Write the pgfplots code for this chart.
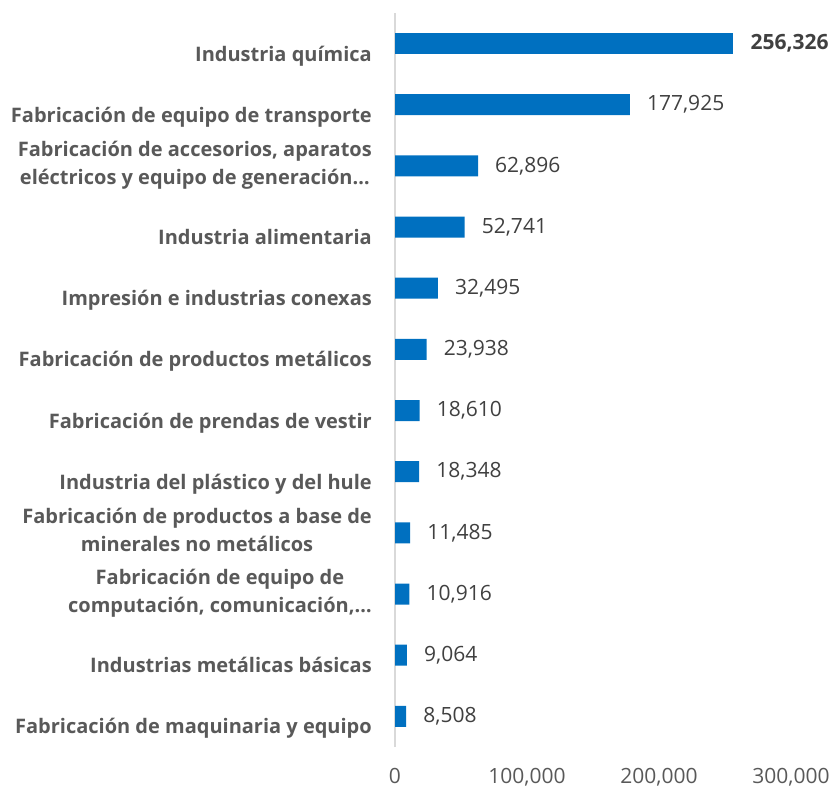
\documentclass[border=0pt]{standalone}
\usepackage{pgfplots}
\pgfplotsset{compat=1.18}
\usepackage{fontspec}
\setmainfont{Open Sans}
\definecolor{barblue}{HTML}{0070C0}
\definecolor{lblgray}{HTML}{595959}
\definecolor{valgray}{HTML}{404040}
\definecolor{axgray}{HTML}{D9D9D9}
\newcommand\ls{\rule[-7pt]{0pt}{21pt}}
\begin{document}
\begin{tikzpicture}[x=1pt,y=1pt]
\begin{axis}[
  at={(395pt,42pt)}, anchor=south west,
  scale only axis, width=396pt, height=734pt,
  xbar, bar width=21pt, bar shift=0pt,
  xmin=0, xmax=300000, ymin=-0.5, ymax=11.5,
  axis lines*=left,
  x axis line style={draw=none},
  y axis line style={draw=axgray, line width=1.2pt},
  major tick length=0pt,
  clip=false,
  xtick={0,100000,200000,300000},
  xticklabels={0,{100,000},{200,000},{300,000}},
  ytick={0,...,11},
  yticklabels={
    {\ls\\\ls Fabricación de maquinaria y equipo},
    {\ls\\\ls Industrias metálicas básicas},
    {\ls Fabricación de equipo de\\\ls computación, comunicación,…},
    {\ls Fabricación de productos a base de\\\ls minerales no metálicos},
    {\ls\\\ls Industria del plástico y del hule},
    {\ls\\\ls Fabricación de prendas de vestir},
    {\ls\\\ls Fabricación de productos metálicos},
    {\ls\\\ls Impresión e industrias conexas},
    {\ls\\\ls Industria alimentaria},
    {\ls Fabricación de accesorios, aparatos\\\ls eléctricos y equipo de generación…},
    {\ls\\\ls Fabricación de equipo de transporte},
    {\ls\\\ls Industria química}},
  xticklabel style={font=\fontsize{21}{25}\selectfont, text=lblgray, inner sep=0pt, anchor=north, yshift=-21pt},
  yticklabel style={font=\fontsize{20}{28}\selectfont\bfseries, text=lblgray, align=center, inner sep=0pt, anchor=east, xshift=-23pt},
  nodes near coords style={anchor=west, inner sep=0pt, xshift=17pt, font=\fontsize{21}{25}\selectfont, text=valgray},
]
\addplot[fill=barblue, draw=none, nodes near coords, point meta=explicit symbolic]
  table[x=v, y=i, meta=l] {
i v l
0 8508 8,508
1 9064 9,064
2 10916 10,916
3 11485 11,485
4 18348 18,348
5 18610 18,610
6 23938 23,938
7 32495 32,495
8 52741 52,741
9 62896 62,896
10 177925 177,925
};
\addplot[fill=barblue, draw=none, nodes near coords, point meta=explicit symbolic,
  every node near coord/.append style={font=\fontsize{21}{25}\selectfont\bfseries}]
  table[x=v, y=i, meta=l] {
i v l
11 256326 256,326
};
\end{axis}
\pgfresetboundingbox
\useasboundingbox (0,0) rectangle (832,789);
\end{tikzpicture}
\end{document}
